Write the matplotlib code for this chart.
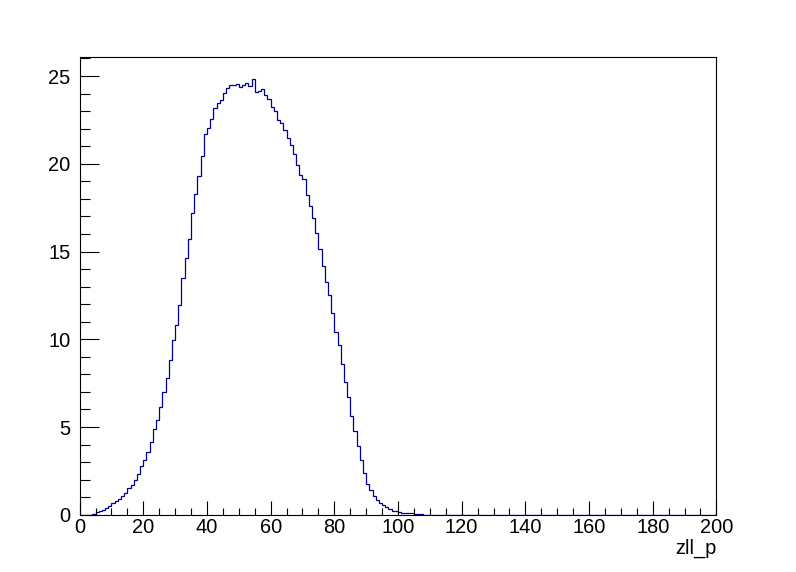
import numpy as np
import matplotlib
matplotlib.use("Agg")
import matplotlib.pyplot as plt
from matplotlib.ticker import MultipleLocator

plt.rcParams['font.family'] = ['Liberation Sans', 'DejaVu Sans']

# histogram zll_p : 200 bins from 0 to 200, contents
n_bins = 200
x_min, x_max = 0, 200
first_bin = 4
counts = [
    0.06, 0.15, 0.22, 0.30, 0.40, 0.52, 0.65, 0.76, 0.90,          # 4-12
    1.05, 1.25, 1.52, 1.68, 1.97, 2.32, 2.79, 3.11, 3.55, 4.16,    # 13-22
    4.86, 5.39, 6.13, 6.99, 7.80, 8.83, 9.97, 10.80, 11.94, 13.48,  # 23-32
    14.62, 15.70, 17.18, 18.26, 19.29, 20.43, 21.68, 22.02, 22.53, 23.16,  # 33-42
    23.44, 23.61, 24.01, 24.30, 24.47, 24.47, 24.53, 24.37, 24.49, 24.58,  # 43-52
    24.43, 24.83, 24.09, 24.15, 24.24, 23.92, 23.69, 23.23, 23.00, 22.48,  # 53-62
    22.32, 21.91, 21.47, 21.07, 20.54, 19.91, 19.36, 19.13, 18.21, 17.58,  # 63-72
    16.90, 16.04, 15.13, 14.18, 13.25, 12.53, 11.49, 10.40, 9.66, 8.58,    # 73-82
    7.57, 6.69, 5.61, 4.76, 3.91, 3.11, 2.41, 1.76, 1.41, 1.08,    # 83-92
    0.84, 0.67, 0.57, 0.47, 0.34, 0.23, 0.21, 0.17, 0.11, 0.11,    # 93-102
    0.08, 0.08, 0.04, 0.04, 0.04,                                  # 103-107
]
x_title = "zll_p"

edges = np.linspace(x_min, x_max, n_bins + 1)
values = np.zeros(n_bins)
values[first_bin:first_bin + len(counts)] = counts

px = 1 / 100
fig = plt.figure(figsize=(796 * px, 572 * px), dpi=100)
ax = fig.add_axes([0.1, 0.1, 0.8, 0.8])

ax.stairs(values, edges, baseline=0, color='#000099', linewidth=0.9)

ax.set_xlim(x_min, x_max)
ax.set_ylim(0, max(counts) * 1.05)

ax.xaxis.set_major_locator(MultipleLocator(20))
ax.xaxis.set_minor_locator(MultipleLocator(5))
ax.yaxis.set_major_locator(MultipleLocator(5))
ax.yaxis.set_minor_locator(MultipleLocator(1))

ax.tick_params(axis='x', which='major', direction='in', length=9.9, width=0.8,
               labelsize=14.4, pad=2.5, top=False)
ax.tick_params(axis='x', which='minor', direction='in', length=4.9, width=0.8, top=False)
ax.tick_params(axis='y', which='major', direction='in', length=13.7, width=0.8,
               labelsize=14.4, pad=6.5, right=False)
ax.tick_params(axis='y', which='minor', direction='in', length=6.9, width=0.8, right=False)

for s in ax.spines.values():
    s.set_linewidth(0.8)
    s.set_zorder(3)

ax.text(1.0, -0.0854, x_title, transform=ax.transAxes, ha='right', va='baseline',
        fontsize=14.4)

fig.savefig("out.png", dpi=100, facecolor='white')
